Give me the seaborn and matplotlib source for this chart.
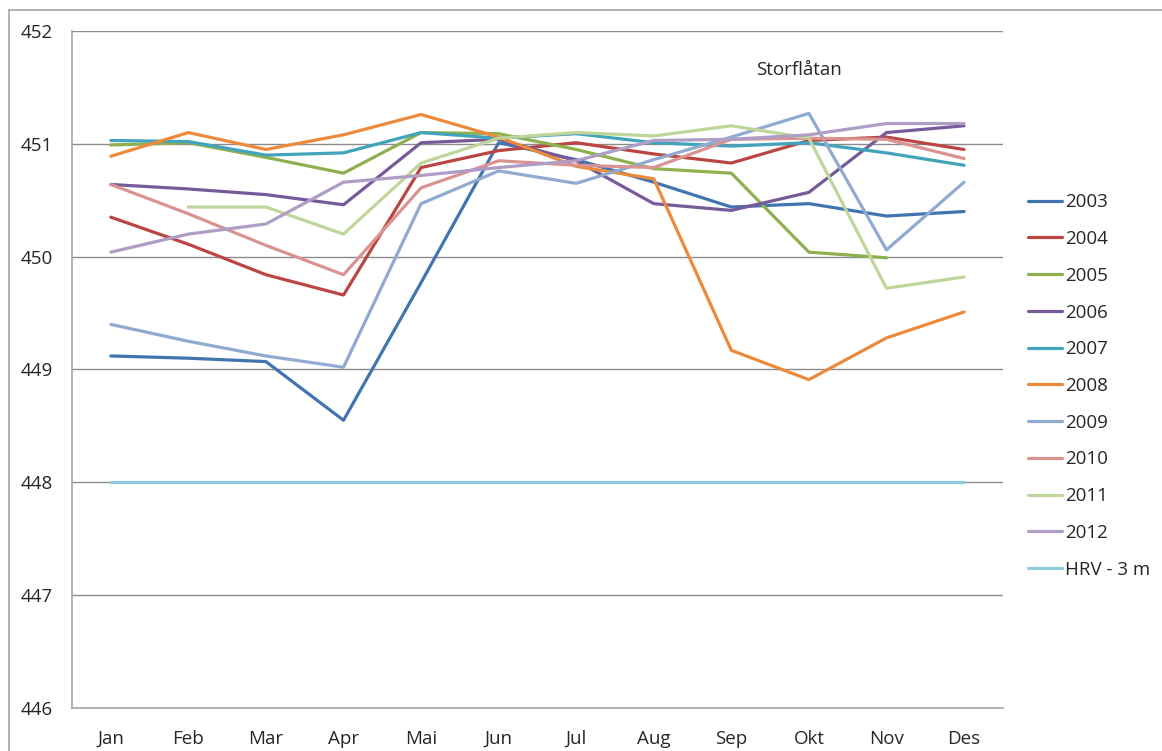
import numpy as np
import pandas as pd
import matplotlib
matplotlib.use("Agg")
import matplotlib.pyplot as plt
from matplotlib.patches import Rectangle
from matplotlib.ticker import FixedLocator
import seaborn as sns

sns.set_style("white")
plt.rcParams["font.family"] = ["Open Sans", "DejaVu Sans"]

months = ["Jan", "Feb", "Mar", "Apr", "Mai", "Jun", "Jul", "Aug", "Sep", "Okt", "Nov", "Des"]
nan = np.nan

y2003 = [449.12, 449.10, 449.07, 448.55, 449.77, 451.01, 450.86, 450.66, 450.44, 450.47, 450.36, 450.40]
y2004 = [450.35, 450.11, 449.84, 449.66, 450.79, 450.94, 451.01, 450.91, 450.83, 451.03, 451.06, 450.95]
y2005 = [450.99, 451.01, 450.88, 450.74, 451.10, 451.09, 450.95, 450.78, 450.74, 450.04, 449.99, nan]
y2006 = [450.64, 450.60, 450.55, 450.46, 451.01, 451.04, 450.85, 450.47, 450.41, 450.57, 451.10, 451.16]
y2007 = [451.03, 451.02, 450.90, 450.92, 451.10, 451.05, 451.09, 451.01, 450.98, 451.01, 450.92, 450.81]
y2008 = [450.89, 451.10, 450.95, 451.08, 451.26, 451.06, 450.80, 450.69, 449.17, 448.91, 449.28, 449.51]
y2009 = [449.40, 449.25, 449.12, 449.02, 450.47, 450.76, 450.65, 450.86, 451.06, 451.27, 450.06, 450.66]
y2010 = [450.64, 450.38, 450.10, 449.84, 450.61, 450.85, 450.81, 450.79, 451.04, 451.05, 451.04, 450.87]
y2011 = [nan, 450.44, 450.44, 450.20, 450.83, 451.05, 451.10, 451.07, 451.16, 451.05, 449.72, 449.82]
y2012 = [450.04, 450.20, 450.29, 450.66, 450.72, 450.79, 450.85, 451.03, 451.04, 451.08, 451.18, 451.18]
hrv = [448.0] * 12

series_names = ["2003", "2004", "2005", "2006", "2007", "2008", "2009", "2010", "2011", "2012", "HRV - 3 m"]
series_values = [y2003, y2004, y2005, y2006, y2007, y2008, y2009, y2010, y2011, y2012, hrv]
colors = ["#4275B0", "#BA4542", "#8FB04E", "#765A9A", "#42A3BC", "#EC8A3C",
          "#90AAD0", "#D99391", "#BFD59A", "#AE9DC5", "#8FCBDB"]

rows = []
for name, vals in zip(series_names, series_values):
    for i, v in enumerate(vals):
        rows.append({"serie": name, "mnd": i, "niva": v})
df = pd.DataFrame(rows).dropna()

fig = plt.figure(figsize=(11.62, 7.51), dpi=100)
ax = fig.add_axes([0.062, 0.0573, 0.801, 0.9014])

# outer chart frame
fig.patches.append(Rectangle((9 / 1162, -0.05), 1.2, 1 - 10 / 751 + 0.05,
                             transform=fig.transFigure, fill=False,
                             edgecolor="#a6a6a6", linewidth=1.2))

sns.lineplot(data=df, x="mnd", y="niva", hue="serie", hue_order=series_names,
             palette=colors, linewidth=2.3, ax=ax, legend=False, sort=False)

ax.set_ylim(446, 452)
ax.set_xlim(-0.5, 11.5)
ax.set_yticks(range(446, 453))
ax.set_xticks(range(12))
ax.set_xticklabels(months)
ax.xaxis.set_minor_locator(FixedLocator(np.arange(-0.5, 12, 1)))
ax.tick_params(axis="x", which="major", length=0, pad=16, labelsize=13.5)
ax.tick_params(axis="x", which="minor", length=6, color="#a6a6a6", width=1, direction="out")
ax.tick_params(axis="y", length=6, color="#a6a6a6", width=1, pad=8, labelsize=13.5, direction="out")
ax.set_xlabel("")
ax.set_ylabel("")
ax.grid(axis="y", color="#8c8c8c", linewidth=1)
ax.grid(axis="x", visible=False)
ax.set_axisbelow(True)
for side in ["top", "right"]:
    ax.spines[side].set_visible(False)
for side in ["left", "bottom"]:
    ax.spines[side].set_color("#a6a6a6")
    ax.spines[side].set_linewidth(1.2)

ax.text(0.781, 0.942, "Storflåtan", transform=ax.transAxes, ha="center", va="center", fontsize=13.5)

handles = [plt.Line2D([], [], color=c, linewidth=2.3) for c in colors]
fig.legend(handles, series_names, loc="center left", bbox_to_anchor=(1011 / 1162, 1 - 386 / 751),
           frameon=False, fontsize=13.5, handlelength=1.8, handletextpad=0.2, labelspacing=1.0)

fig.savefig("out.png", dpi=100)
